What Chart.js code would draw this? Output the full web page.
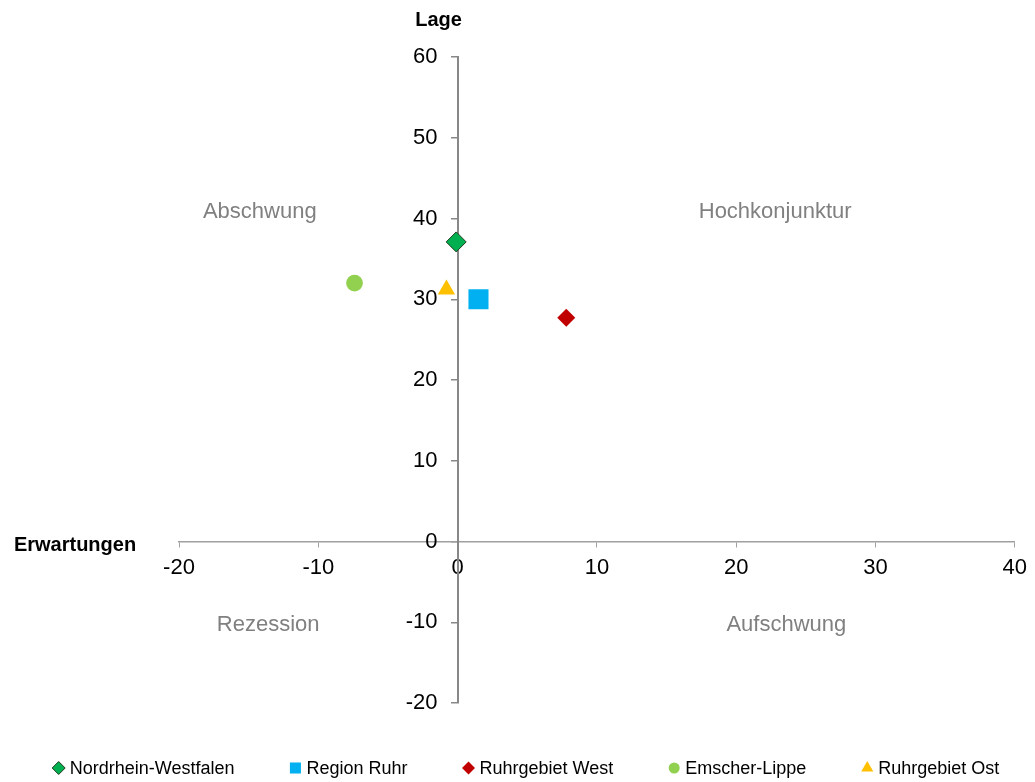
<!DOCTYPE html>
<html>
<head>
<meta charset="utf-8">
<script src="https://cdn.jsdelivr.net/npm/chart.js@4/dist/chart.umd.min.js"></script>
<style>
  html, body { margin: 0; padding: 0; background: #ffffff; }
  #wrap { width: 1035px; height: 782px; }
</style>
</head>
<body>
<div id="wrap"><canvas id="c" width="1035" height="782"></canvas></div>
<script>
// ---- data ----
const seriesNames = ["Nordrhein-Westfalen", "Region Ruhr", "Ruhrgebiet West", "Emscher-Lippe", "Ruhrgebiet Ost"];
const expectations = [-0.1, 1.5, 7.8, -7.4, -0.8];   // x: Erwartungen
const situation    = [37.1, 30.0, 27.7, 32.0, 31.2]; // y: Lage
const xTicks = [-20, -10, 0, 10, 20, 30, 40];
const yTicks = [-20, -10, 0, 10, 20, 30, 40, 50, 60];
const quadrantNames = ["Abschwung", "Hochkonjunktur", "Rezession", "Aufschwung"];
const xTitle = "Erwartungen";
const yTitle = "Lage";

// ---- styles ----
const FONT = "'Liberation Sans', Arial, sans-serif";
const styles = [
  { pointStyle: 'rectRot',  backgroundColor: '#00B050', borderColor: '#1e3d1e', borderWidth: 1, radius: 10,  legendRadius: 6.5 },
  { pointStyle: 'rect',     backgroundColor: '#00B0F0', borderColor: '#00B0F0', borderWidth: 0, radius: 14.2, legendRadius: 7.8 },
  { pointStyle: 'rectRot',  backgroundColor: '#C00000', borderColor: '#C00000', borderWidth: 0, radius: 9,   legendRadius: 6.5 },
  { pointStyle: 'circle',   backgroundColor: '#92D050', borderColor: '#92D050', borderWidth: 0, radius: 8.4, legendRadius: 5.5 },
  { pointStyle: 'triangle', backgroundColor: '#FFC000', borderColor: '#FFC000', borderWidth: 0, radius: 10,  legendRadius: 7 }
];

const datasets = seriesNames.map((name, i) => ({
  label: name,
  data: [{ x: expectations[i], y: situation[i] }],
  pointStyle: styles[i].pointStyle,
  backgroundColor: styles[i].backgroundColor,
  borderColor: styles[i].borderColor,
  borderWidth: styles[i].borderWidth,
  pointRadius: styles[i].radius,
  pointHoverRadius: styles[i].radius
}));

// move the y tick labels off the axis line (tick length + padding)
const yLabelOffset = {
  id: 'yLabelOffset',
  beforeDraw(chart) {
    const ys = chart.scales.y;
    const items = ys.getLabelItems(chart.chartArea);
    if (items && !items._shifted) {
      items.forEach(it => { it.options.translation[0] -= 20; });
      items._shifted = true;
    }
  }
};

// quadrant labels + axis titles
const annotationPlugin = {
  id: 'annotations',
  afterDraw(chart) {
    const ctx = chart.ctx;
    const xs = chart.scales.x, ys = chart.scales.y;
    ctx.save();
    ctx.font = "22px " + FONT;
    ctx.fillStyle = '#808080';
    ctx.textAlign = 'center';
    ctx.textBaseline = 'middle';
    const qpos = [[-14.2, 40.8], [22.8, 40.8], [-13.6, -10.3], [23.6, -10.3]];
    quadrantNames.forEach((q, i) => {
      ctx.fillText(q, xs.getPixelForValue(qpos[i][0]), ys.getPixelForValue(qpos[i][1]));
    });
    ctx.font = "bold 20px " + FONT;
    ctx.fillStyle = '#000000';
    ctx.fillText(yTitle, xs.getPixelForValue(0) - 19, 20);
    ctx.fillText(xTitle, 75, ys.getPixelForValue(0) + 4);
    ctx.restore();
  }
};

// legend drawn from the datasets
const legendPlugin = {
  id: 'customLegend',
  afterDraw(chart) {
    const ctx = chart.ctx;
    ctx.save();
    ctx.font = "18px " + FONT;
    const markerW = 12, gapMT = 5, gapItems = 55;
    const widths = chart.data.datasets.map(d => markerW + gapMT + ctx.measureText(d.label).width);
    const total = widths.reduce((a, b) => a + b, 0) + gapItems * (widths.length - 1);
    let x = 526 - total / 2;
    const y = 768;
    chart.data.datasets.forEach((d, i) => {
      const st = styles[i];
      ctx.fillStyle = d.backgroundColor;
      ctx.strokeStyle = d.borderColor;
      ctx.lineWidth = d.borderWidth;
      Chart.helpers.drawPoint(ctx, {
        pointStyle: d.pointStyle, radius: st.legendRadius, borderWidth: d.borderWidth, rotation: 0
      }, x + markerW / 2, y);
      ctx.fillStyle = '#000000';
      ctx.textAlign = 'left';
      ctx.textBaseline = 'middle';
      ctx.fillText(d.label, x + markerW + gapMT, y + 1);
      x += widths[i] + gapItems;
    });
    ctx.restore();
  }
};

new Chart(document.getElementById('c'), {
  type: 'scatter',
  data: { datasets },
  options: {
    responsive: false,
    animation: false,
    devicePixelRatio: 1,
    events: [],
    layout: { padding: { left: 179, right: 19, top: 57, bottom: 79 } },
    plugins: {
      legend: { display: false },
      tooltip: { enabled: false },
      title: { display: false }
    },
    scales: {
      x: {
        type: 'linear',
        position: { y: 0 },
        min: xTicks[0],
        max: xTicks[xTicks.length - 1],
        afterBuildTicks: (axis) => { axis.ticks = xTicks.map(v => ({ value: v })); },
        ticks: { color: '#000000', font: { family: FONT, size: 22 }, padding: 8, maxRotation: 0 },
        grid: { display: true, drawOnChartArea: false, drawTicks: true, tickLength: 5, color: '#a0a0a0', lineWidth: 1 },
        border: { display: true, color: '#a0a0a0', width: 1.5 }
      },
      y: {
        type: 'linear',
        position: { x: 0 },
        min: yTicks[0],
        max: yTicks[yTicks.length - 1],
        afterBuildTicks: (axis) => { axis.ticks = yTicks.map(v => ({ value: v })); },
        ticks: { color: '#000000', font: { family: FONT, size: 22 }, padding: 13 },
        grid: { display: true, drawOnChartArea: false, drawTicks: true, tickLength: 6, color: '#888888', lineWidth: 1.5 },
        border: { display: true, color: '#888888', width: 2 }
      }
    }
  },
  plugins: [yLabelOffset, annotationPlugin, legendPlugin]
});
</script>
</body>
</html>
